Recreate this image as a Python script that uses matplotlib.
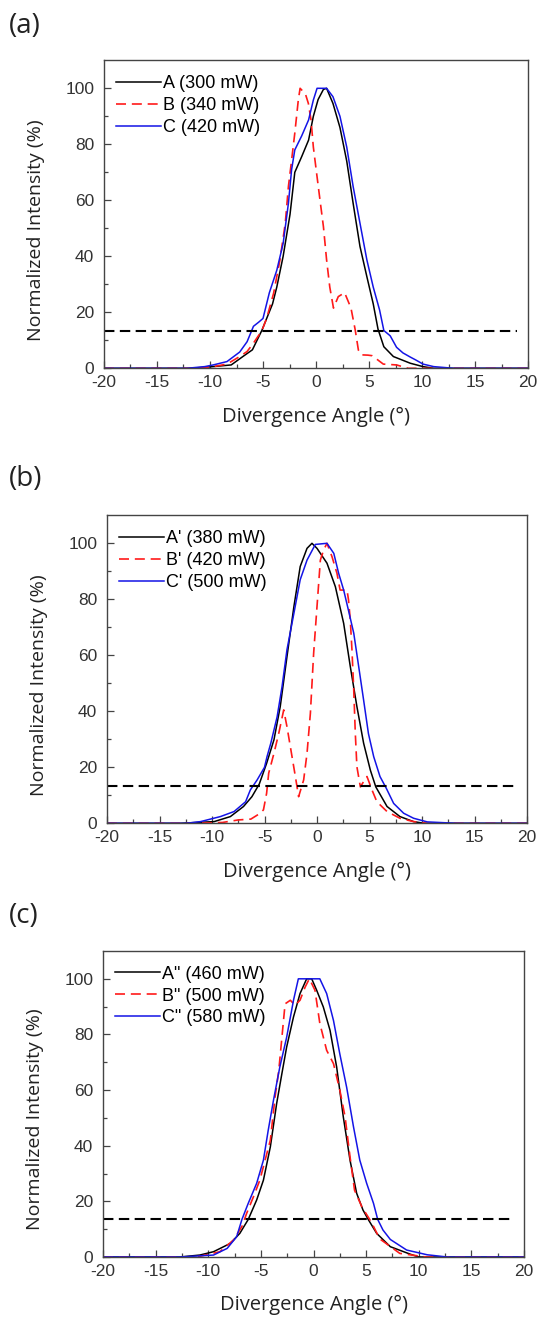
import matplotlib.pyplot as plt
import numpy as np

plt.rcParams['axes.unicode_minus'] = False

# beam divergence profiles, angle in degrees vs normalized intensity in %
# (a) 300 / 340 / 420 mW
a_A_x = [-20, -12, -10.3, -8.0, -6.9, -6.0, -5.1, -4.1, -3.7, -3.1, -2.45, -2.0, -1.35, -0.7, -0.25, 0.2, 0.7, 1.0, 1.6, 2.26, 2.9, 3.5, 4.15, 4.8, 5.4, 5.85, 6.4, 7.3, 8.9, 10.1, 11.1, 20]
a_A_y = [0, 0, 0.4, 1.2, 4.2, 6.6, 13.6, 23, 29, 40, 55, 70, 75.6, 81.5, 90, 96, 99.6, 100, 94.6, 86, 74, 59, 43.5, 32.7, 23, 14, 7.7, 4.2, 1.8, 0.6, 0, 0]
a_B_x = [-20, -11.3, -9.7, -8.4, -7.2, -6.5, -5.9, -5.1, -4.65, -4.0, -3.4, -2.9, -2.6, -2.3, -2.0, -1.67, -1.5, -1.0, -0.72, -0.47, -0.25, 0.06, 0.38, 0.7, 1.0, 1.3, 1.65, 2.1, 2.7, 3.3, 3.7, 4.0, 4.3, 4.9, 5.3, 6.35, 7.6, 8.7, 20]
a_B_y = [0, 0, 0.6, 1.5, 4.2, 6, 9, 13.5, 17.9, 26.8, 38.7, 51.8, 65, 74.4, 84, 95.8, 100, 98, 94.6, 88.7, 79, 69.6, 60, 50.6, 38.7, 29, 21.5, 25.6, 27, 21.5, 13.7, 6.5, 4.8, 4.7, 4.5, 1.5, 1.2, 0, 0]
a_C_x = [-20, -12.2, -10.5, -9.7, -8.4, -7.2, -6.5, -5.9, -5.4, -5.0, -4.4, -3.7, -3.1, -2.6, -2.3, -2.0, -1.35, -0.7, -0.25, 0.1, 1.0, 1.6, 2.26, 2.9, 3.5, 4.15, 4.8, 5.4, 6.0, 6.4, 7.0, 7.6, 8.2, 8.9, 9.4, 10.1, 11.1, 13, 20]
a_C_y = [0, 0, 0.6, 1.2, 2.4, 5.8, 9.5, 15, 16.5, 17.8, 27, 35, 44.6, 59, 71, 78, 83, 88.7, 95.8, 100, 100, 97, 90, 79, 65, 51.8, 38.7, 29, 20.8, 13.5, 11.6, 7.5, 5.5, 4.0, 3.0, 1.5, 0.6, 0, 0]

# (b) 380 / 420 / 500 mW
b_A_x = [-20, -13, -9.8, -8.25, -7.0, -6.2, -5.5, -4.8, -4.1, -3.5, -2.86, -2.2, -1.6, -0.95, -0.48, 0, 0.95, 1.75, 2.54, 3.17, 3.8, 4.44, 5.08, 5.6, 6.67, 7.9, 9.2, 10.2, 20]
b_A_y = [0, 0, 0.6, 2.4, 6, 9.5, 14, 21.4, 29.8, 41.7, 59.5, 77.4, 91.7, 98.2, 100, 98.2, 92.9, 84.5, 71.4, 56, 41.7, 28.6, 19, 13, 6, 2.4, 0.6, 0, 0]
b_B_x = [-20, -11.7, -9.0, -7.5, -6.3, -5.4, -5.1, -4.8, -4.6, -4.1, -3.65, -3.17, -2.86, -2.54, -2.06, -1.75, -1.27, -0.95, -0.63, -0.32, 0, 0.32, 0.63, 0.95, 1.43, 1.9, 2.2, 2.86, 3.0, 3.17, 3.33, 3.5, 3.65, 3.8, 4.13, 4.44, 4.76, 5.24, 5.7, 6.67, 7.9, 9.2, 10.5, 20]
b_B_y = [0, 0, 0.3, 1.2, 1.5, 3.6, 4.8, 10.7, 17.9, 25, 32, 40.5, 34.5, 27.4, 16.7, 9.5, 15.5, 25, 39.3, 60.7, 77.4, 94, 97.6, 100, 95.2, 89.3, 83.3, 83.3, 79.8, 72.6, 61.9, 47.6, 32, 20.2, 13, 14.9, 16.7, 11.9, 7.7, 4.2, 1.8, 0.6, 0, 0]
b_C_x = [-20, -12.5, -11.1, -9.2, -7.9, -6.8, -6.35, -5.7, -5.0, -4.76, -4.4, -3.8, -3.33, -2.86, -2.2, -1.6, -0.95, -0.16, 0.95, 1.6, 2.06, 2.54, 3.0, 3.5, 3.97, 4.44, 4.9, 5.4, 6.0, 6.6, 7.3, 8.25, 9.2, 10.5, 13.3, 20]
b_C_y = [0, 0, 0.6, 2.4, 4.2, 7.7, 11.9, 15.5, 20, 23.8, 28.6, 38, 48.8, 62, 75, 87, 94, 99.6, 100, 96.4, 89.3, 83.3, 76, 67.9, 56, 44, 32, 23.8, 16.7, 12.5, 7.1, 3.6, 1.8, 0.5, 0, 0]

# (c) 460 / 500 / 580 mW
c_A_x = [-20, -12.7, -10.8, -9.5, -7.9, -7.0, -6.2, -5.4, -4.76, -4.1, -3.5, -3.0, -2.55, -1.9, -1.28, -0.65, -0.17, 0.3, 0.93, 1.57, 2.2, 2.83, 3.47, 4.1, 4.7, 5.2, 6.0, 7.3, 9.2, 10.0, 20]
c_A_y = [0, 0, 0.7, 1.9, 4.9, 8.5, 13.5, 20.5, 27.6, 39.6, 55.2, 66, 75.5, 86.3, 94.7, 100, 100, 95.9, 89.9, 81.5, 68.3, 50.4, 34.8, 22.9, 16.9, 13.5, 8.5, 3.7, 1.0, 0, 0]
c_B_x = [-20, -11.1, -8.9, -7.6, -6.8, -6.35, -5.7, -5.1, -4.6, -4.1, -3.65, -3.3, -3.0, -2.7, -2.2, -1.76, -1.28, -0.8, -0.4, -0.17, 0.14, 0.6, 1.25, 1.9, 2.5, 3.0, 3.47, 3.9, 4.6, 5.5, 6.3, 8.2, 10.7, 20]
c_B_y = [0, 0, 1.9, 6.1, 11, 15.7, 21.7, 27.6, 34.8, 42, 57.6, 67, 79, 91, 92.3, 90.5, 92.3, 97, 100, 98.3, 95.9, 84, 74.3, 69.5, 60, 50.4, 36, 24, 18, 12.5, 6.5, 1.3, 0, 0]
c_C_x = [-20, -12.7, -9.5, -8.2, -7.3, -6.8, -6.2, -5.4, -4.76, -4.3, -3.8, -3.2, -2.55, -1.9, -1.44, 0.6, 1.25, 1.9, 2.5, 3.15, 3.8, 4.4, 5.05, 5.7, 6.1, 6.6, 7.3, 8.85, 10.8, 12.7, 20]
c_C_y = [0, 0, 0.7, 3.1, 7.3, 13.5, 19.3, 26.5, 34.8, 45.6, 56.4, 68.3, 79, 92.3, 100, 100, 94.7, 85, 73, 61, 46.8, 34.8, 26.5, 19.3, 13.5, 9.7, 6.3, 2.5, 0.8, 0, 0]

labels_a = ['A (300 mW)', 'B (340 mW)', 'C (420 mW)']
labels_b = ["A' (380 mW)", "B' (420 mW)", "C' (500 mW)"]
labels_c = ['A" (460 mW)', 'B" (500 mW)', 'C" (580 mW)']

threshold = 13.5   # 1/e^2 level
xticks = [-20, -15, -10, -5, 0, 5, 10, 15, 20]
yticks = [0, 20, 40, 60, 80, 100]

W, H = 540, 1320
fig = plt.figure(figsize=(W / 100, H / 100), dpi=100)

TICK_FONT = 'Liberation Sans'
LABEL_FONT = 'Open Sans'
GREY = '#444444'


def panel(box, tag, tag_y, curves, labels):
    l, r, top, bot = box
    ax = fig.add_axes([l / W, 1 - bot / H, (r - l) / W, (bot - top) / H])
    (xa, ya), (xb, yb), (xc, yc) = curves
    ax.plot(xa, ya, color='black', lw=1.1, label=labels[0])
    ax.plot(xb, yb, color='#ff1a1a', lw=1.2, ls=(0, (6, 3.5)), label=labels[1])
    ax.plot(xc, yc, color='#1414e6', lw=1.1, label=labels[2])
    ax.plot([-20, 19], [threshold, threshold], color='black', lw=1.5, ls=(0, (5, 2.6)))

    ax.set_xlim(-20, 20)
    ax.set_ylim(0, 110)
    ax.set_xticks(xticks)
    ax.set_yticks(yticks)
    ax.set_xticks(np.arange(-17.5, 20, 5), minor=True)
    ax.set_yticks(np.arange(10, 110, 20), minor=True)
    ax.tick_params(which='both', direction='in', top=False, right=False,
                   color=GREY, width=0.9)
    ax.tick_params(which='major', length=5, labelsize=12.5, labelcolor='#333333')
    ax.tick_params(axis='x', which='major', pad=5)
    ax.tick_params(axis='y', which='major', pad=7)
    ax.tick_params(which='minor', length=3)
    for t in ax.get_xticklabels() + ax.get_yticklabels():
        t.set_family(TICK_FONT)
    for s in ax.spines.values():
        s.set_color(GREY)
        s.set_linewidth(1.0)

    ax.set_xlabel('Divergence Angle (°)', family=LABEL_FONT, fontsize=14.5, color='#222222')
    ax.set_ylabel('Normalized Intensity (%)', family=LABEL_FONT, fontsize=14, color='#222222')
    ax.xaxis.set_label_coords(0.5, -0.125)
    ax.yaxis.set_label_coords(-0.14, 0.45)

    ax.legend(loc='upper left', bbox_to_anchor=(0.028, 0.952), frameon=False,
              borderpad=0, borderaxespad=0, handlelength=2.5, handletextpad=0.1,
              labelspacing=0.27, prop={'family': TICK_FONT, 'size': 13})

    fig.text(9 / W, 1 - tag_y / H, tag, family=LABEL_FONT, fontsize=20,
             ha='left', va='center', color='#222222')
    return ax


panel((104, 528, 60.3, 368.3), '(a)', 26,
      [(a_A_x, a_A_y), (a_B_x, a_B_y), (a_C_x, a_C_y)], labels_a)
panel((107, 527, 515.3, 823.3), '(b)', 479,
      [(b_A_x, b_A_y), (b_B_x, b_B_y), (b_C_x, b_C_y)], labels_b)
panel((103, 524, 951, 1257), '(c)', 916,
      [(c_A_x, c_A_y), (c_B_x, c_B_y), (c_C_x, c_C_y)], labels_c)

fig.savefig('out.png', dpi=100)
